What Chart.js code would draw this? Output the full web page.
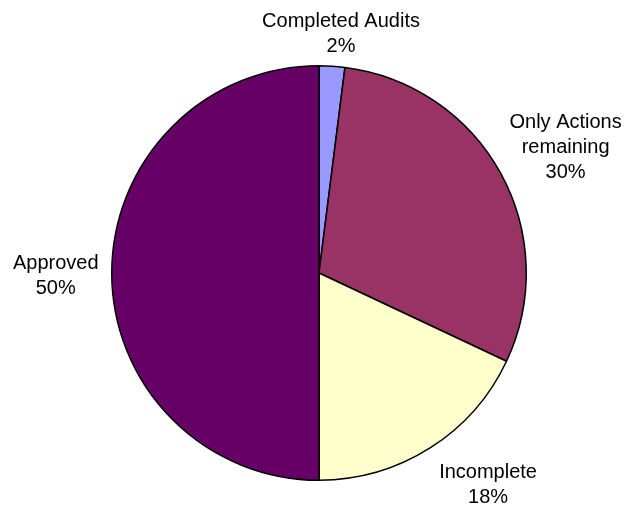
<!DOCTYPE html>
<html>
<head>
<meta charset="utf-8">
<script src="https://cdn.jsdelivr.net/npm/chart.js@4/dist/chart.umd.min.js"></script>
<style>
    html, body { margin: 0; padding: 0; background: #fff; }
    #wrap { width: 637px; height: 509px; }
</style>
</head>
<body>
<div id="wrap"><canvas id="pie"></canvas></div>
<script>
const categories = ['Completed Audits', 'Only Actions remaining', 'Incomplete', 'Approved'];
const values = [2, 30, 18, 50];
const colors = ['#9999ff', '#993366', '#ffffcc', '#660066'];

// how each label is broken into lines, and where it sits relative to the slice's outer edge
const labelLines = [['Completed Audits'], ['Only Actions', 'remaining'], ['Incomplete'], ['Approved']];
const labelOffsets = [[9, -32], [65, -26], [58, 37], [-56, 3]];

const outsideLabels = {
    id: 'outsideLabels',
    afterDatasetsDraw(chart) {
        const ctx = chart.ctx;
        const meta = chart.getDatasetMeta(0);
        const total = values.reduce(function (a, b) { return a + b; }, 0);
        ctx.save();
        ctx.font = '20px "Liberation Sans", Arial, sans-serif';
        ctx.fillStyle = '#000';
        ctx.textAlign = 'center';
        ctx.textBaseline = 'middle';
        meta.data.forEach(function (arc, i) {
            const p = arc.getProps(['x', 'y', 'startAngle', 'endAngle', 'outerRadius'], true);
            const mid = (p.startAngle + p.endAngle) / 2;
            const ex = p.x + Math.cos(mid) * p.outerRadius;
            const ey = p.y + Math.sin(mid) * p.outerRadius;
            const lines = labelLines[i].concat([Math.round(values[i] / total * 100) + '%']);
            const lh = 25;
            const cx = ex + labelOffsets[i][0];
            const cy = ey + labelOffsets[i][1];
            const top = cy - (lines.length - 1) * lh / 2;
            lines.forEach(function (t, k) {
                ctx.fillText(t, cx, top + k * lh);
            });
        });
        ctx.restore();
    }
};

new Chart(document.getElementById('pie'), {
    type: 'pie',
    data: {
        labels: categories,
        datasets: [{
            data: values,
            backgroundColor: colors,
            borderColor: '#000',
            borderWidth: 1.5
        }]
    },
    options: {
        responsive: true,
        maintainAspectRatio: false,
        animation: false,
        layout: { padding: { top: 65, bottom: 28, left: 111, right: 110 } },
        plugins: {
            legend: { display: false },
            tooltip: { enabled: false }
        }
    },
    plugins: [outsideLabels]
});
</script>
</body>
</html>
